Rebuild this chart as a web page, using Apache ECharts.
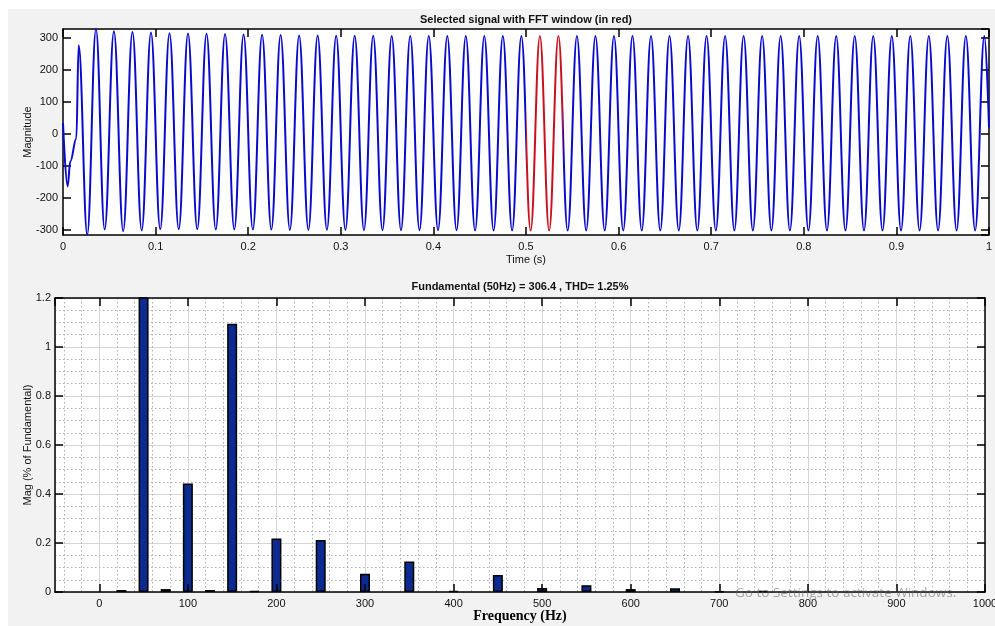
<!DOCTYPE html>
<html>
<head>
<meta charset="utf-8">
<title>FFT analysis</title>
<script src="https://cdn.jsdelivr.net/npm/echarts@6/dist/echarts.min.js"></script>
<style>
    html, body { margin: 0; padding: 0; background: #fff; }
    #main { width: 995px; height: 626px; }
</style>
</head>
<body>
<div id="main"></div>
<script>
// ---- signal: one point per peak / trough (time in ms) ----
var sigMs = [
    0, 5, 7.9, 14.4, 16.9, 26.2, 35.6, 45, 55, 65, 75, 85, 95,
    105, 115, 125, 135, 145, 155, 165, 175, 185, 195,
    205, 215, 225, 235, 245, 255, 265, 275, 285, 295,
    305, 315, 325, 335, 345, 355, 365, 375, 385, 395,
    405, 415, 425, 435, 445, 455, 465, 475, 485, 495,
    505, 515, 525, 535, 545, 555, 565, 575, 585, 595,
    605, 615, 625, 635, 645, 655, 665, 675, 685, 695,
    705, 715, 725, 735, 745, 755, 765, 775, 785, 795,
    805, 815, 825, 835, 845, 855, 865, 875, 885, 895,
    905, 915, 925, 935, 945, 955, 965, 975, 985, 995,
    1000
];
var sigVal = [
    34, -164, -86, -14, 277, -315, 328, -299, 321, -304, 319, -302, 317,
    -298, 315, -298, 314, -298, 313, -299, 312, -299, 311,
    -299, 310, -299, 309, -300, 308, -300, 308, -300, 307,
    -300, 307, -301, 307, -301, 306, -301, 306, -301, 306,
    -301, 306, -301, 306, -302, 306, -302, 306, -302, 306,
    -302, 306, -302, 306, -302, 306, -302, 306, -302, 306,
    -302, 306, -302, 306, -302, 306, -302, 306, -302, 306,
    -302, 306, -302, 306, -302, 306, -302, 306, -302, 306,
    -302, 306, -302, 306, -302, 306, -302, 306, -302, 306,
    -302, 306, -302, 306, -302, 306, -302, 306, -302, 306,
    20
];
// FFT window shown in red (s)
var fftWindow = [0.5, 0.54];

// ---- spectrum ----
var freqHz = [25, 50, 75, 100, 125, 150, 175, 200, 250, 300, 350, 400, 450, 500, 550, 600, 650, 700, 750];
var magPct = [0.008, 100, 0.012, 0.443, 0.008, 1.095, 0.004, 0.218, 0.212, 0.075, 0.125, 0.004, 0.069, 0.016, 0.028, 0.012, 0.015, 0.003, 0.005];

var titleTop = 'Selected signal with FFT window (in red)';
var titleBottom = 'Fundamental (50Hz) = 306.4 , THD= 1.25%';

var sans = '"Liberation Sans", Arial, sans-serif';
var blue = '#0a0acd';
var red = '#c8101e';

var signal = sigMs.map(function (t, i) { return [t / 1000, sigVal[i]]; });
var spectrum = freqHz.map(function (f, i) { return [f, magPct[i]]; });

var labelStyle = { color: '#111', fontSize: 11, fontFamily: sans };
var lineBlack = { color: '#000', width: 1.5 };
var plainNum = function (v) { return String(v); };

// axis with inner ticks, no labels (mirror side of the box)
function mirrorAxis(opt) {
    return Object.assign({
        type: 'value',
        axisLine: { show: true, onZero: false, lineStyle: lineBlack },
        axisTick: { show: true, inside: true, length: 8, lineStyle: lineBlack },
        axisLabel: { show: false },
        splitLine: { show: false }
    }, opt);
}

var chart = echarts.init(document.getElementById('main'));

var option = {
    backgroundColor: '#f2f2f2',
    animation: false,
    grid: [
        { left: 63, right: 6, top: 29, height: 206, outerBoundsMode: 'none', show: true, backgroundColor: '#fff', borderWidth: 0 },
        { left: 55, right: 10, top: 298, height: 294, outerBoundsMode: 'none', show: true, backgroundColor: '#fff', borderWidth: 0 }
    ],
    xAxis: [
        {
            type: 'value', gridIndex: 0, min: 0, max: 1, interval: 0.1,
            axisLine: { show: true, onZero: false, lineStyle: lineBlack },
            axisTick: { show: true, inside: true, length: 8, lineStyle: lineBlack },
            axisLabel: Object.assign({ margin: 6, formatter: plainNum }, labelStyle),
            splitLine: { show: false },
            name: 'Time (s)', nameLocation: 'middle', nameGap: 19, nameMoveOverlap: false,
            nameTextStyle: { color: '#111', fontSize: 11, fontFamily: sans }
        },
        mirrorAxis({ gridIndex: 0, position: 'top', min: 0, max: 1, interval: 0.1 }),
        {
            type: 'value', gridIndex: 1, min: -50, max: 1000, splitNumber: 10, z: 3,
            axisLine: { show: true, onZero: false, lineStyle: lineBlack },
            axisTick: { show: true, inside: true, length: 8, lineStyle: lineBlack },
            axisLabel: Object.assign({ margin: 6, showMinLabel: false, formatter: plainNum }, labelStyle),
            splitLine: { show: false },
            name: 'Frequency (Hz)', nameLocation: 'middle', nameGap: 17, nameMoveOverlap: false,
            nameTextStyle: { color: '#000', fontSize: 14, fontWeight: 'bold', fontFamily: '"Liberation Serif", "Times New Roman", serif' }
        },
        mirrorAxis({
            gridIndex: 1, position: 'top', min: -50, max: 1000, splitNumber: 10,
            splitLine: { show: true, lineStyle: { color: '#d6d6d6', width: 1 } },
            minorTick: { show: false, splitNumber: 5 },
            minorSplitLine: { show: true, lineStyle: { color: '#b0b0b0', width: 1, type: [1.5, 2.5] } }
        })
    ],
    yAxis: [
        {
            type: 'value', gridIndex: 0, min: -316, max: 328, splitNumber: 6,
            axisLine: { show: true, onZero: false, lineStyle: lineBlack },
            axisTick: { show: true, inside: true, length: 8, lineStyle: lineBlack },
            axisLabel: Object.assign({ margin: 5, showMinLabel: false, showMaxLabel: false, formatter: plainNum }, labelStyle),
            splitLine: { show: false },
            name: 'Magnitude', nameLocation: 'middle', nameGap: 30, nameMoveOverlap: false,
            nameTextStyle: { color: '#111', fontSize: 11, fontFamily: sans }
        },
        mirrorAxis({ gridIndex: 0, position: 'right', min: -316, max: 328, splitNumber: 6 }),
        {
            type: 'value', gridIndex: 1, min: 0, max: 1.2, interval: 0.2,
            axisLine: { show: true, onZero: false, lineStyle: lineBlack },
            axisTick: { show: true, inside: true, length: 8, lineStyle: lineBlack },
            axisLabel: Object.assign({ margin: 4, formatter: plainNum }, labelStyle),
            splitLine: { show: true, lineStyle: { color: '#d6d6d6', width: 1 } },
            minorTick: { show: false, splitNumber: 4 },
            minorSplitLine: { show: true, lineStyle: { color: '#b0b0b0', width: 1, type: [1.5, 2.5] } },
            name: 'Mag (% of Fundamental)', nameLocation: 'middle', nameGap: 22, nameMoveOverlap: false,
            nameTextStyle: { color: '#111', fontSize: 11, fontFamily: sans }
        },
        mirrorAxis({ gridIndex: 1, position: 'right', min: 0, max: 1.2, interval: 0.2 })
    ],
    visualMap: {
        type: 'piecewise', show: false, seriesIndex: 0, dimension: 0,
        pieces: [{ gte: fftWindow[0], lte: fftWindow[1], color: red }],
        outOfRange: { color: blue }
    },
    series: [
        {
            type: 'line', xAxisIndex: 0, yAxisIndex: 0,
            data: signal,
            smooth: 0.4, smoothMonotone: 'x',
            showSymbol: false,
            lineStyle: { width: 2 },
            clip: true
        },
        {
            type: 'bar', xAxisIndex: 2, yAxisIndex: 2,
            data: spectrum,
            barWidth: 10,
            clip: true,
            itemStyle: { color: '#0b2b90', borderColor: '#000', borderWidth: 1.5 }
        }
    ],
    graphic: [
        // white strip round the grey figure panel
        { type: 'rect', left: 0, top: 0, shape: { width: 995, height: 9 }, style: { fill: '#fff' } },
        { type: 'rect', left: 0, top: 0, shape: { width: 8, height: 626 }, style: { fill: '#fff' } },
        {
            type: 'text', x: 526, y: 20,
            style: { text: titleTop, fill: '#111', font: 'bold 11px ' + sans, align: 'center', verticalAlign: 'middle', textAlign: 'center', textVerticalAlign: 'middle' }
        },
        {
            type: 'text', x: 520, y: 287,
            style: { text: titleBottom, fill: '#111', font: 'bold 11px ' + sans, align: 'center', verticalAlign: 'middle', textAlign: 'center', textVerticalAlign: 'middle' }
        },
        {
            type: 'text', x: 735, y: 593, z: 100,
            style: { text: 'Go to Settings to activate Windows.', fill: 'rgba(100,100,100,0.55)', font: '13.5px "Open Sans", sans-serif', verticalAlign: 'middle', textVerticalAlign: 'middle' }
        }
    ]
};

chart.setOption(option);
</script>
</body>
</html>
